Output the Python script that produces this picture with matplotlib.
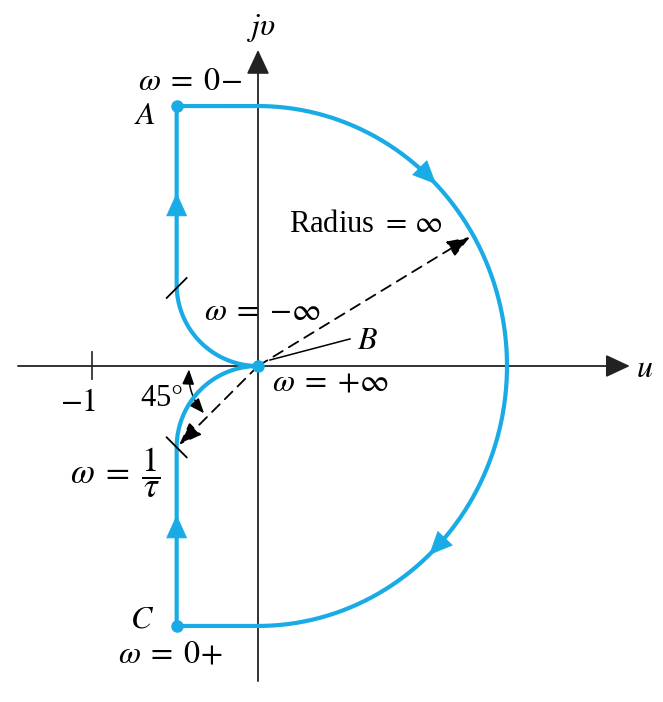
import numpy as np
import matplotlib
matplotlib.use('Agg')
import matplotlib.pyplot as plt
from matplotlib.patches import FancyArrowPatch

plt.rcParams['font.family'] = ['Liberation Serif', 'DejaVu Serif']
plt.rcParams['mathtext.fontset'] = 'stix'

blue = '#19abe6'

# geometry of the contour (data units, 1 unit = distance to -1)
x_left = -0.49        # vertical legs through A and C
r_small = 0.49        # small quarter circles near origin
big_a, big_b = 1.50, 1.566   # semi axes of the infinite-radius arc
y_top = 1.566         # level of A / C
leg_arrows_y = [1.0, -0.94]
arc_arrows_t = [46, -45]      # degrees along big arc
tick_pts = [(-0.49, 0.47), (-0.49, -0.49)]
tick_dirs = [(1, 1), (1, -1)]
dots = [(x_left, y_top), (x_left, -y_top), (0.0, 0.0)]
radius_tip = (1.277, 0.777)
tau_tip = (-0.475, -0.475)
minus_one = -1.0

fig = plt.figure(figsize=(6.63, 7.02), dpi=100)
ax = fig.add_axes([0, 0, 1, 1])
ax.set_xlim(-258/166, 405/166)
ax.set_ylim(-336/166, 366/166)
ax.axis('off')

# axes
axis_head = '-|>,head_length=0.75,head_width=0.35'
ax.annotate('', xy=(2.24, 0), xytext=(-1.446, 0),
            arrowprops=dict(arrowstyle=axis_head, color='#222222', lw=1.3, shrinkA=0, shrinkB=0, mutation_scale=20))
ax.annotate('', xy=(0, 1.904), xytext=(0, -1.898),
            arrowprops=dict(arrowstyle=axis_head, color='#222222', lw=1.3, shrinkA=0, shrinkB=0, mutation_scale=20))
ax.plot([minus_one, minus_one], [-0.08, 0.085], c='#333333', lw=1.3)

# blue contour
t_big = np.linspace(np.pi/2, -np.pi/2, 200)
th_up = np.linspace(np.pi, 1.5*np.pi, 60)
th_lo = np.linspace(0.5*np.pi, np.pi, 60)
lw_b = 3
# top edge, big arc, bottom edge
ax.plot(np.concatenate([[x_left], big_a*np.cos(t_big), [x_left]]),
        np.concatenate([[y_top], big_b*np.sin(t_big), [-y_top]]),
        c=blue, lw=lw_b, zorder=3)
# left upper leg and quarter circle into origin
ax.plot(np.concatenate([[x_left], r_small*np.cos(th_up)]),
        np.concatenate([[y_top], r_small + r_small*np.sin(th_up)]),
        c=blue, lw=lw_b, zorder=3)
# origin out through quarter circle down to C
ax.plot(np.concatenate([r_small*np.cos(th_lo), [x_left]]),
        np.concatenate([-r_small + r_small*np.sin(th_lo), [-y_top]]),
        c=blue, lw=lw_b, zorder=3)

blue_head = '-|>,head_length=0.8,head_width=0.36'
for y in leg_arrows_y:
    ax.add_patch(FancyArrowPatch((x_left, y - 0.06), (x_left, y + 0.06), arrowstyle=blue_head,
                                 color=blue, lw=0.5, mutation_scale=20, zorder=4))
for td in arc_arrows_t:
    t = np.radians(td)
    p = np.array([big_a*np.cos(t), big_b*np.sin(t)])
    d = np.array([big_a*np.sin(t), -big_b*np.cos(t)])
    d = d/np.hypot(*d)
    ax.add_patch(FancyArrowPatch(p - 0.06*d, p + 0.06*d, arrowstyle=blue_head,
                                 color=blue, lw=0.5, mutation_scale=20, zorder=4))

for (x, y) in dots:
    ax.plot(x, y, 'o', c=blue, ms=8, zorder=5)

for (x, y), (dx, dy) in zip(tick_pts, tick_dirs):
    s = 0.06
    ax.plot([x - s*dx, x + s*dx], [y - s*dy, y + s*dy], c='k', lw=1.3, zorder=5)

# dashed arrows
dash_head = '-|>,head_length=0.7,head_width=0.26'
for tip in [radius_tip, tau_tip]:
    ax.annotate('', xy=tip, xytext=(0, 0),
                arrowprops=dict(arrowstyle=dash_head, color='k', lw=1.3, mutation_scale=20,
                                linestyle=(0, (6, 4)), shrinkA=0, shrinkB=0))
# B leader
ax.plot([0.072, 0.554], [0.036, 0.163], c='k', lw=1.1)
# 45 degree arc arrow
ax.add_patch(FancyArrowPatch((-0.416, -0.02), (-0.325, -0.285), connectionstyle='arc3,rad=0.2',
                             arrowstyle='<|-|>,head_length=0.45,head_width=0.18', color='k', lw=1.1,
                             mutation_scale=20, shrinkA=0, shrinkB=0))

fs = 23
ax.text(0.024, 2.036, r'$j\upsilon$', fontsize=fs, ha='center', va='center')
ax.text(2.331, -0.024, r'$u$', fontsize=fs, ha='center', va='center')
ax.text(-0.41, 1.71, r'$\omega\;=\;0\!-$', fontsize=fs, ha='center', va='center')
ax.text(-0.68, 1.50, r'$A$', fontsize=fs, ha='center', va='center')
ax.text(0.65, 0.85, r'Radius $=\,\infty$', fontsize=22, ha='center', va='center')
ax.text(0.03, 0.32, r'$\omega\;=\;{-}\infty$', fontsize=fs, ha='center', va='center')
ax.text(0.657, 0.145, r'$B$', fontsize=fs, ha='center', va='center')
ax.text(0.44, -0.10, r'$\omega\;=\;{+}\infty$', fontsize=fs, ha='center', va='center')
ax.text(-0.584, -0.193, r'45$\degree$', fontsize=22, ha='center', va='center')
ax.text(-1.084, -0.223, r'$-1$', fontsize=fs, ha='center', va='center')
ax.text(-0.861, -0.645, r'$\omega\;=\;\dfrac{1}{\tau}$', fontsize=25, ha='center', va='center')
ax.text(-0.699, -1.53, r'$C$', fontsize=fs, ha='center', va='center')
ax.text(-0.524, -1.741, r'$\omega\;=\;0\!+$', fontsize=fs, ha='center', va='center')

fig.savefig('out.png', dpi=100)
